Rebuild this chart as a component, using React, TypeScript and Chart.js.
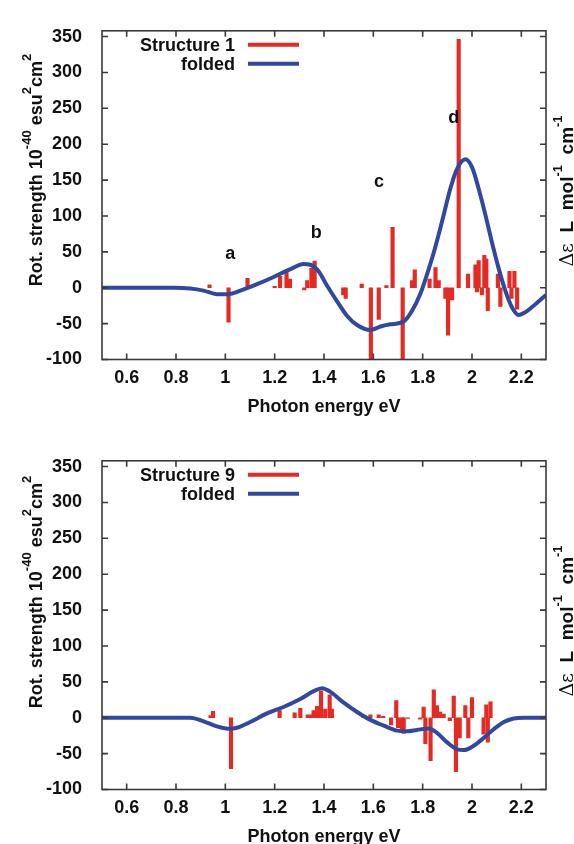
import React, { useEffect, useRef } from 'react';
import { Chart, registerables } from 'chart.js';

Chart.register(...registerables);

// ---- shared axis data ----
const xTickValues = [0.6, 0.8, 1, 1.2, 1.4, 1.6, 1.8, 2, 2.2];
const yTickValues = [-100, -50, 0, 50, 100, 150, 200, 250, 300, 350];
const xMin = 0.5;
const xMax = 2.3;
const yMin = -100;
const yMax = 358;

// ---- top panel: Structure 1 ----
const s1Name = 'Structure 1';
const s1StickEnergy = [
  0.936, 1.013, 1.09, 1.2, 1.222, 1.248, 1.262, 1.32, 1.332, 1.349, 1.362,
  1.478, 1.488, 1.553, 1.59, 1.622, 1.653, 1.678, 1.719, 1.757, 1.768,
  1.828, 1.852, 1.865, 1.892, 1.903, 1.919, 1.946, 1.984, 2.014, 2.02,
  2.027, 2.04, 2.05, 2.058, 2.064, 2.105, 2.115, 2.152, 2.16, 2.172, 2.183,
];
const s1StickStrength = [
  4, -48, 13, 2, 16, 22, 12, -3, 10, 27, 37,
  -10, -15, 5, -140, -44, 3, 84, -150, 10, 25,
  12, 28, 10, -15, -66, -17, 346, 19, 32, -6,
  38, -10, 45, 40, -32, 19, -26, 23, -15, 23, -30,
];
const s1FoldEnergy = [
  0.5, 0.79, 0.858, 0.912, 0.966, 1.013, 1.061, 1.129, 1.196, 1.264, 1.318,
  1.345, 1.378, 1.412, 1.453, 1.493, 1.534, 1.588, 1.629, 1.669, 1.723,
  1.757, 1.791, 1.818, 1.845, 1.879, 1.912, 1.94, 1.973, 2.0, 2.027, 2.054,
  2.081, 2.108, 2.135, 2.163, 2.189, 2.217, 2.257, 2.3,
];
const s1FoldValue = [
  0, 0, -1, -4, -9, -9, -4, 5, 15, 26, 33,
  32, 23, 3, -19, -39, -52, -59, -54, -51, -47,
  -32, -8, 19, 49, 93, 138, 166, 179, 168, 138, 102,
  63, 27, -4, -28, -38, -34, -23, -10,
];
const s1PeakText = ['a', 'b', 'c', 'd'];
const s1PeakEnergy = [1.02, 1.369, 1.623, 1.926];
const s1PeakHeight = [40, 69, 141, 230];

// ---- bottom panel: Structure 9 ----
const s9Name = 'Structure 9';
const s9StickEnergy = [
  0.94, 0.95, 1.023, 1.22, 1.281, 1.304, 1.334, 1.349, 1.358, 1.372, 1.388,
  1.405, 1.423, 1.432, 1.56, 1.588, 1.622, 1.64, 1.672, 1.693, 1.7, 1.716,
  1.723, 1.74, 1.79, 1.804, 1.811, 1.832, 1.845, 1.858, 1.87, 1.885, 1.91,
  1.926, 1.935, 1.95, 1.973, 1.985, 2.0, 2.047, 2.058, 2.064, 2.075,
];
const s9StickStrength = [
  3, 9, -71, 10, 7, 13, 4, 4, 10, 16, 37,
  12, 32, 12, 3, 4, 4, 2, -10, 24, -14, -16,
  -22, -1, -2, 15, -36, -60, 39, 17, 8, 5, -4,
  30, -75, -28, 17, -28, 28, -23, 18, -34, 22,
];
const s9FoldEnergy = [
  0.5, 0.858, 0.912, 0.966, 1.02, 1.047, 1.101, 1.169, 1.236, 1.304, 1.358,
  1.392, 1.426, 1.48, 1.534, 1.588, 1.642, 1.696, 1.736, 1.777, 1.824,
  1.858, 1.898, 1.94, 1.967, 2.007, 2.048, 2.088, 2.129, 2.169, 2.209, 2.3,
];
const s9FoldValue = [
  0, 0, -5, -12, -15.5, -14, -6, 6, 15, 26, 37,
  41, 36, 21, 8, -3, -11, -18, -19, -17, -15,
  -21, -34, -44, -45, -39, -28, -16, -6, -1, 0, 0,
];
const s9PeakText: string[] = [];
const s9PeakEnergy: number[] = [];
const s9PeakHeight: number[] = [];

// ---- styling ----
const FONT = '"Liberation Sans", Arial, Helvetica, sans-serif';
const INK = '#111111';
const RED = '#e42a22';
const BLUE = '#3049a0';
const FRAME = '#3a3a3a';
const CANVAS_W = 574;
const CANVAS_H = 430;
const PAD_TOP = 13;
const PLOT_H = 346.5;
const Y_AXIS_W = 102;
const PAD_RIGHT = 28;

type Part = { t: string; f: string; dy: number };

function drawRich(ctx: CanvasRenderingContext2D, parts: Part[]) {
  let total = 0;
  const widths = parts.map((p) => {
    ctx.font = p.f;
    const w = ctx.measureText(p.t).width;
    total += w;
    return w;
  });
  let x = -total / 2;
  parts.forEach((p, i) => {
    ctx.font = p.f;
    ctx.fillText(p.t, x, p.dy);
    x += widths[i];
  });
}

type PanelProps = {
  top: number;
  name: string;
  stickE: number[];
  stickR: number[];
  foldE: number[];
  foldV: number[];
  peakText: string[];
  peakE: number[];
  peakV: number[];
  yTitleCenter: number;
  rightTitleCenter: number;
};

function Panel(props: PanelProps) {
  const ref = useRef<HTMLCanvasElement | null>(null);
  useEffect(() => {
    const canvas = ref.current;
    if (!canvas) return;
    const { name, stickE, stickR, foldE, foldV, peakText, peakE, peakV, yTitleCenter, rightTitleCenter } = props;
    const bold = (s: number) => `bold ${s}px ${FONT}`;

    const decor = {
      id: 'decor',
      afterDatasetsDraw(chart: any) {
        const { ctx, chartArea: a, scales } = chart;
        const xs = scales.x;
        const ys = scales.y;
        ctx.save();
        // peak letters
        ctx.fillStyle = INK;
        ctx.font = bold(18);
        ctx.textAlign = 'center';
        ctx.textBaseline = 'alphabetic';
        peakText.forEach((t, i) => {
          ctx.fillText(t, xs.getPixelForValue(peakE[i]), ys.getPixelForValue(peakV[i]));
        });
        // frame
        ctx.strokeStyle = FRAME;
        ctx.lineWidth = 1.6;
        ctx.strokeRect(a.left, a.top, a.right - a.left, a.bottom - a.top);
        // inward tick marks (mirrored)
        ctx.beginPath();
        xTickValues.forEach((v) => {
          const p = xs.getPixelForValue(v);
          ctx.moveTo(p, a.bottom);
          ctx.lineTo(p, a.bottom - 6);
          ctx.moveTo(p, a.top);
          ctx.lineTo(p, a.top + 6);
        });
        yTickValues.forEach((v) => {
          const p = ys.getPixelForValue(v);
          ctx.moveTo(a.left, p);
          ctx.lineTo(a.left + 6, p);
          ctx.moveTo(a.right, p);
          ctx.lineTo(a.right - 6, p);
        });
        ctx.stroke();
        // legend (gnuplot style)
        ctx.textAlign = 'right';
        ctx.font = bold(18);
        ctx.fillStyle = INK;
        ctx.fillText(name, a.left + 133, a.top + 20.5);
        ctx.fillText('folded', a.left + 133, a.top + 39.5);
        ctx.lineWidth = 4;
        ctx.strokeStyle = RED;
        ctx.beginPath();
        ctx.moveTo(a.left + 146, a.top + 14);
        ctx.lineTo(a.left + 197, a.top + 14);
        ctx.stroke();
        ctx.strokeStyle = BLUE;
        ctx.beginPath();
        ctx.moveTo(a.left + 146, a.top + 33);
        ctx.lineTo(a.left + 197, a.top + 33);
        ctx.stroke();
        // left axis title
        ctx.textAlign = 'left';
        ctx.fillStyle = INK;
        ctx.save();
        ctx.translate(42, yTitleCenter);
        ctx.rotate(-Math.PI / 2);
        drawRich(ctx, [
          { t: 'Rot. strength 10', f: bold(18), dy: 0 },
          { t: '-40', f: bold(13), dy: -11 },
          { t: ' esu', f: bold(18), dy: 0 },
          { t: '2', f: bold(13), dy: -11 },
          { t: 'cm', f: bold(18), dy: 0 },
          { t: '2', f: bold(13), dy: -11 },
        ]);
        ctx.restore();
        // right axis title (partly cut by the page edge)
        ctx.save();
        ctx.translate(573, rightTitleCenter);
        ctx.rotate(-Math.PI / 2);
        drawRich(ctx, [
          { t: 'Δε', f: `19px "DejaVu Serif", "Liberation Serif", serif`, dy: 0 },
          { t: '  L  mol', f: bold(19), dy: 0 },
          { t: '-1', f: bold(13), dy: -11 },
          { t: '  cm', f: bold(19), dy: 0 },
          { t: '-1', f: bold(13), dy: -11 },
        ]);
        ctx.restore();
        ctx.restore();
      },
    };

    const tickFont = { family: FONT, size: 18, weight: 'bold' as const };

    const chart = new Chart(canvas, {
      data: {
        datasets: [
          {
            type: 'line',
            label: 'folded',
            data: foldE.map((x, i) => ({ x, y: foldV[i] })),
            borderColor: BLUE,
            borderWidth: 4,
            pointRadius: 0,
            cubicInterpolationMode: 'monotone',
            fill: false,
            order: 0,
          },
          {
            type: 'bar',
            label: name,
            data: stickE.map((x, i) => ({ x, y: stickR[i] })),
            backgroundColor: RED,
            borderWidth: 0,
            barThickness: 3.5,
            order: 1,
          },
        ],
      } as any,
      options: {
        animation: false,
        responsive: false,
        maintainAspectRatio: false,
        layout: { padding: { top: PAD_TOP, right: PAD_RIGHT, left: 0, bottom: 0 } },
        plugins: { legend: { display: false }, tooltip: { enabled: false } },
        scales: {
          x: {
            type: 'linear',
            min: xMin,
            max: xMax,
            offset: false,
            grid: { display: false, drawTicks: false },
            border: { display: false },
            afterBuildTicks: (s: any) => {
              s.ticks = xTickValues.map((v) => ({ value: v }));
            },
            afterFit: (s: any) => {
              s.height = CANVAS_H - PAD_TOP - PLOT_H;
            },
            ticks: {
              font: tickFont,
              color: INK,
              padding: 8,
              maxRotation: 0,
              autoSkip: false,
              callback: (v: any) => String(v),
            },
            title: {
              display: true,
              text: 'Photon energy eV',
              font: tickFont,
              color: INK,
              padding: { top: 0, bottom: 12 },
            },
          },
          y: {
            type: 'linear',
            min: yMin,
            max: yMax,
            grid: { display: false, drawTicks: false },
            border: { display: false },
            afterBuildTicks: (s: any) => {
              s.ticks = yTickValues.map((v) => ({ value: v }));
            },
            afterFit: (s: any) => {
              s.width = Y_AXIS_W;
            },
            ticks: {
              font: tickFont,
              color: INK,
              padding: 20,
              autoSkip: false,
              callback: (v: any) => String(v),
            },
          },
        },
      } as any,
      plugins: [decor],
    });
    return () => chart.destroy();
  }, []);

  return (
    <canvas
      ref={ref}
      width={CANVAS_W}
      height={CANVAS_H}
      style={{ position: 'absolute', left: 0, top: props.top, width: CANVAS_W, height: CANVAS_H }}
    />
  );
}

export default function App() {
  return (
    <div
      style={{
        position: 'absolute',
        left: 0,
        top: 0,
        width: 574,
        height: 844,
        overflow: 'hidden',
        background: '#ffffff',
      }}
    >
      <Panel
        top={0}
        name={s1Name}
        stickE={s1StickEnergy}
        stickR={s1StickStrength}
        foldE={s1FoldEnergy}
        foldV={s1FoldValue}
        peakText={s1PeakText}
        peakE={s1PeakEnergy}
        peakV={s1PeakHeight}
        yTitleCenter={170}
        rightTitleCenter={191}
      />
      <Panel
        top={430}
        name={s9Name}
        stickE={s9StickEnergy}
        stickR={s9StickStrength}
        foldE={s9FoldEnergy}
        foldV={s9FoldValue}
        peakText={s9PeakText}
        peakE={s9PeakEnergy}
        peakV={s9PeakHeight}
        yTitleCenter={162}
        rightTitleCenter={191}
      />
    </div>
  );
}
